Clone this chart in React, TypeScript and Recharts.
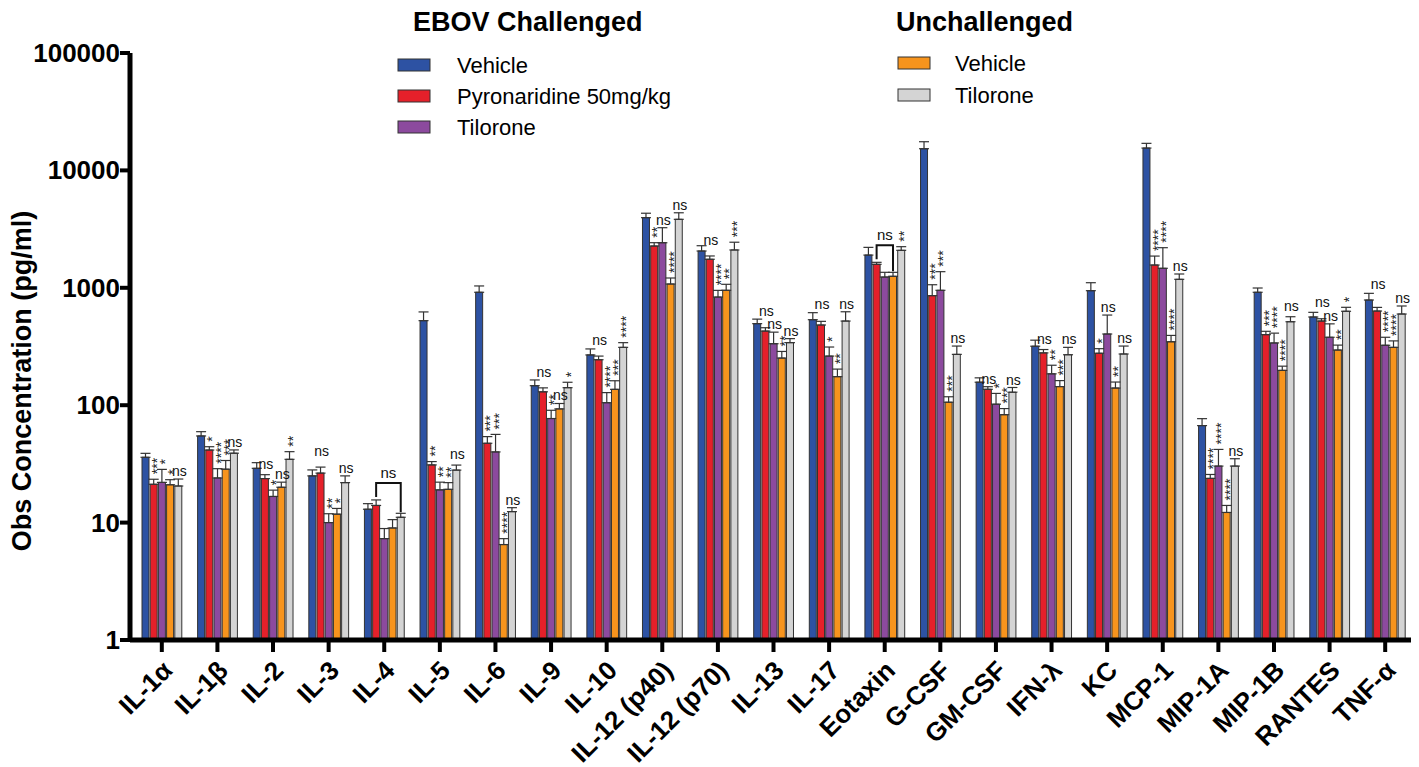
import React from 'react';
import { BarChart, Bar, XAxis, YAxis, ErrorBar, LabelList } from 'recharts';

const categories = ['IL-1α', 'IL-1β', 'IL-2', 'IL-3', 'IL-4', 'IL-5', 'IL-6', 'IL-9', 'IL-10', 'IL-12 (p40)', 'IL-12 (p70)', 'IL-13', 'IL-17', 'Eotaxin', 'G-CSF', 'GM-CSF', 'IFN-λ', 'KC', 'MCP-1', 'MIP-1A', 'MIP-1B', 'RANTES', 'TNF-α'];

const ebovVehicle = [36, 54.7, 29, 25, 13, 525, 916, 146.6, 268, 3957, 2058, 495, 535, 1900, 15300, 157, 318, 945, 15500, 67, 916, 564, 787];
const ebovPyronaridine = [21.2, 41.5, 23.7, 26.4, 14, 31, 47.4, 130, 244, 2270, 1750, 428, 482, 1585, 857, 136.6, 279, 277, 1563, 23.8, 399, 521, 634];
const ebovTilorone = [22, 24, 16.7, 10, 7.3, 19, 40, 77, 105, 2420, 834, 334, 262, 1235, 952, 102, 185, 404, 1466, 30.3, 339, 379, 324];
const unchVehicle = [21, 28.5, 20, 11.8, 9, 19.2, 6.5, 93, 136.5, 1077, 952, 252, 175, 1253, 106, 83, 144, 140, 347, 12.2, 198, 295, 311];
const unchTilorone = [20.5, 39, 34.6, 21.9, 11.1, 28, 12.4, 141, 311, 3831, 2100, 341, 521, 2085, 271, 129, 269, 273, 1181, 30.3, 514, 631, 598];

const ebovVehicleErr = [2.9, 4.8, 3.4, 3.1, 1.5, 98, 121, 17.5, 33.5, 360, 225, 46, 79, 310, 2250, 14, 40, 160, 1500, 9.8, 80, 54, 110];
const ebovPyronaridineErr = [2.2, 2.8, 1.9, 3.3, 1.6, 2.1, 6.6, 10.5, 18, 152, 117, 29, 36, 63, 205, 7.2, 19, 26, 300, 1.9, 27, 24, 47];
const ebovTiloroneErr = [6.4, 4.8, 2.2, 1.9, 1.6, 3.1, 16.4, 13.5, 23, 830, 117, 85, 51, 120, 420, 24, 34, 182, 730, 11.7, 72, 114, 55];
const unchVehicleErr = [2.2, 5.3, 2.1, 1.4, 1.6, 2.7, 0.8, 10.4, 25, 135, 119, 35, 28, 101, 12, 10.6, 18, 17.5, 46, 1.8, 17, 30, 42];
const unchTiloroneErr = [3.0, 2.6, 5.6, 3.1, 0.9, 2.9, 1.0, 15.8, 30, 525, 345, 28, 104, 155, 48, 12.5, 42, 46, 130, 4.7, 53, 51, 102];

const sigEbovVehicle = categories.map(() => '');
const sigEbovPyronaridine = ['***', '*', 'ns', 'ns', '', '**', '***', 'ns', 'ns', '**', 'ns', 'ns', 'ns', '', '***', 'ns', 'ns', '*', '****', '****', '***', 'ns', 'ns'];
const sigEbovTilorone = ['*', '****', '*', '**', '', '**', '***', '**', '****', 'ns', '****', 'ns', '*', '', '***', '*', '**', 'ns', '****', '****', '****', 'ns', '****'];
const sigUnchVehicle = ['*', '***', 'ns', '*', '', '**', '****', 'ns', '***', '****', '**', '**', '**', '', '***', '***', '***', '**', '****', '****', '****', '**', '****'];
const sigUnchTilorone = ['ns', 'ns', '**', 'ns', '', 'ns', 'ns', '*', '****', 'ns', '***', 'ns', 'ns', '**', 'ns', 'ns', 'ns', 'ns', 'ns', 'ns', 'ns', '*', 'ns'];

// brackets: category index, first and last series index spanned, label
const brackets = [
  { index: 4, from: 1, to: 4, label: 'ns' },
  { index: 13, from: 1, to: 3, label: 'ns' },
];

const yTicks = [1, 10, 100, 1000, 10000, 100000];

// style: extra vertical lift (px) for some "ns" labels, keyed "series-category"
const labelLift: Record<string, number> = {
  '1-2': 3, '1-3': 8, '1-7': 8, '1-8': 8, '1-10': 8, '1-11': 9, '1-12': 9, '1-16': 3, '1-21': 9, '1-22': 15, '4-5': 3, '4-20': 3,
};

const FONT = '"Liberation Sans", Arial, Helvetica, sans-serif';
const BAR_SIZE = 7;
const BAR_GAP = 1.2;

const series = [
  { key: 'ebovVehicle', name: 'Vehicle', color: '#2D52A3', values: ebovVehicle, errors: ebovVehicleErr, sig: sigEbovVehicle },
  { key: 'ebovPyronaridine', name: 'Pyronaridine 50mg/kg', color: '#E5202A', values: ebovPyronaridine, errors: ebovPyronaridineErr, sig: sigEbovPyronaridine },
  { key: 'ebovTilorone', name: 'Tilorone', color: '#8C4A9E', values: ebovTilorone, errors: ebovTiloroneErr, sig: sigEbovTilorone },
  { key: 'unchVehicle', name: 'Vehicle', color: '#F7941D', values: unchVehicle, errors: unchVehicleErr, sig: sigUnchVehicle },
  { key: 'unchTilorone', name: 'Tilorone', color: '#D4D4D4', values: unchTilorone, errors: unchTiloroneErr, sig: sigUnchTilorone },
];

const data = categories.map((name, i) => {
  const row: any = { name };
  series.forEach((s) => {
    row[s.key] = s.values[i];
    row[s.key + 'Err'] = [0, s.errors[i]];
  });
  return row;
});

function makeSigLabel(sIdx: number) {
  return (props: any) => {
    const i = props.index;
    if (i === undefined || i === null) return null;
    const vb = props.viewBox && props.viewBox.width !== undefined ? props.viewBox : props;
    const x = Number(vb.x);
    const y = Number(vb.y);
    const w = Number(vb.width);
    const h = Number(vb.height);
    if (!isFinite(x) || !isFinite(y) || !isFinite(h)) return null;
    const top = Math.min(y, y + h);
    const bottom = Math.max(y, y + h);
    const v = series[sIdx].values[i];
    const ppd = (bottom - top) / Math.log10(v);
    const capOf = (s: number) => bottom - ppd * Math.log10(series[s].values[i] + series[s].errors[i]);
    const cx = x + w / 2;
    const cap = capOf(sIdx);
    const out: any[] = [];
    const txt = series[sIdx].sig[i];
    const lift = labelLift[sIdx + '-' + i] || 0;
    if (txt === 'ns') {
      out.push(
        <text key="ns" x={cx + 1} y={cap - 3 - lift} textAnchor="middle" fontSize={14} fontFamily={FONT} fill="#111">ns</text>
      );
    } else if (txt) {
      out.push(
        <text key="st" transform={`translate(${cx},${cap - 5 - lift}) rotate(-90)`} dy={8} textAnchor="start" fontSize={14} fontFamily={FONT} fill="#222">{txt}</text>
      );
    }
    brackets.forEach((b, k) => {
      if (b.index === i && b.to === sIdx) {
        const pitch = w + BAR_GAP;
        const leftX = cx - (b.to - b.from) * pitch;
        let minCap = Infinity;
        for (let s = b.from; s <= b.to; s++) minCap = Math.min(minCap, capOf(s));
        const bt = minCap - 17;
        const lb = capOf(b.from) - 3;
        const rb = capOf(b.to) - 1;
        out.push(
          <path key={'b' + k} d={`M${leftX},${lb} L${leftX},${bt} L${cx},${bt} L${cx},${rb}`} fill="none" stroke="#111" strokeWidth={2} />
        );
        out.push(
          <text key={'bt' + k} x={(leftX + cx) / 2} y={bt - 5} textAnchor="middle" fontSize={15} fontFamily={FONT} fill="#111">{b.label}</text>
        );
      }
    });
    return <g>{out}</g>;
  };
}

const XTick = (props: any) => {
  const { x, y, payload } = props;
  return (
    <g transform={`translate(${x + 12},${y + 18})`}>
      <text transform="rotate(-45)" textAnchor="end" fontSize={26} fontWeight="bold" fontFamily={FONT} fill="#000">{payload.value}</text>
    </g>
  );
};

const YTick = (props: any) => {
  const { x, y, payload } = props;
  return (
    <text x={x} y={y} dy={9} textAnchor="end" fontSize={26} fontWeight="bold" fontFamily={FONT} fill="#000">{payload.value}</text>
  );
};

const legendLeft = [
  { s: 0, y: 65 },
  { s: 1, y: 96 },
  { s: 2, y: 127 },
];
const legendRight = [
  { s: 3, y: 63 },
  { s: 4, y: 95 },
];

export default function App() {
  const off = 8;
  return (
    <div style={{ position: 'relative', width: 1411, height: 759 }}>
      <BarChart
        width={1411}
        height={759}
        data={data}
        margin={{ top: 45, right: 2, bottom: 0, left: 0 }}
        barSize={BAR_SIZE}
        barGap={BAR_GAP}
      >
        <XAxis
          dataKey="name"
          interval={0}
          height={127}
          padding={{ left: 4, right: 4 }}
          axisLine={{ stroke: '#000', strokeWidth: 5 }}
          tickLine={{ stroke: '#000', strokeWidth: 4 }}
          tickSize={12}
          tick={<XTick />}
        />
        <YAxis
          scale="log"
          domain={[1, 100000]}
          ticks={yTicks}
          allowDataOverflow
          width={122}
          axisLine={{ stroke: '#000', strokeWidth: 5 }}
          tickLine={{ stroke: '#000', strokeWidth: 4 }}
          tickSize={10}
          tickMargin={0}
          tick={<YTick />}
        />
        {series.map((s, sIdx) => (
          <Bar key={s.key} dataKey={s.key} fill={s.color} stroke="#333" strokeWidth={1} isAnimationActive={false}>
            <ErrorBar dataKey={s.key + 'Err'} direction="y" width={5} stroke="#333" strokeWidth={1.2} isAnimationActive={false} />
            <LabelList dataKey={s.key} content={makeSigLabel(sIdx)} />
          </Bar>
        ))}
      </BarChart>
      <svg width={1411} height={759} style={{ position: 'absolute', left: 0, top: 0, pointerEvents: 'none' }}>
        <text x={22 - off} y={381 - off} transform={`rotate(-90, ${22 - off}, ${381 - off})`} textAnchor="middle" dominantBaseline="central" fontSize={27} fontWeight="bold" fontFamily={FONT} fill="#000">Obs Concentration (pg/ml)</text>
        <text x={413 - off} y={31 - off} fontSize={27} fontWeight="bold" fontFamily={FONT} fill="#000">EBOV Challenged</text>
        <text x={896 - off} y={31 - off} fontSize={27} fontWeight="bold" fontFamily={FONT} fill="#000">Unchallenged</text>
        {legendLeft.map((l) => (
          <g key={'l' + l.s}>
            <rect x={398 - off} y={l.y - 6 - off} width={32} height={12} fill={series[l.s].color} stroke="#333" strokeWidth={1} />
            <text x={457 - off} y={l.y + 8 - off} fontSize={22} fontFamily={FONT} fill="#000">{series[l.s].name}</text>
          </g>
        ))}
        {legendRight.map((l) => (
          <g key={'r' + l.s}>
            <rect x={898 - off} y={l.y - 6 - off} width={32} height={12} fill={series[l.s].color} stroke="#333" strokeWidth={1} />
            <text x={955 - off} y={l.y + 8 - off} fontSize={22} fontFamily={FONT} fill="#000">{series[l.s].name}</text>
          </g>
        ))}
      </svg>
    </div>
  );
}
